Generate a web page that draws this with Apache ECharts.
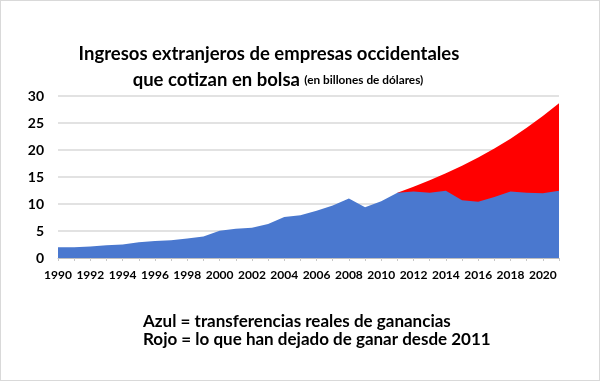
<!DOCTYPE html>
<html><head><meta charset="utf-8">
<script src="https://cdn.jsdelivr.net/npm/echarts@6/dist/echarts.min.js"></script>
<style>html,body{margin:0;padding:0;background:#fff}#c{width:598px;height:379px;border:1px solid #d9d9d9}</style>
</head><body><div id="c"></div>
<script>
const years = ['1990','1991','1992','1993','1994','1995','1996','1997','1998','1999','2000','2001','2002','2003','2004','2005','2006','2007','2008','2009','2010','2011','2012','2013','2014','2015','2016','2017','2018','2019','2020','2021'];
const azul = [2.0,2.0,2.15,2.35,2.5,2.9,3.15,3.3,3.6,4.0,5.05,5.4,5.6,6.3,7.6,7.9,8.75,9.7,11.0,9.4,10.5,12.1,12.3,12.1,12.45,10.7,10.4,11.3,12.3,12.1,12.0,12.45];
const rojo = [null,null,null,null,null,null,null,null,null,null,null,null,null,null,null,null,null,null,null,null,null,12.1,13.2,14.4,15.7,17.1,18.6,20.3,22.1,24.1,26.3,28.65];
const yTicks = [0,5,10,15,20,25,30];
const titulo1 = 'Ingresos extranjeros de empresas occidentales';
const titulo2a = 'que cotizan en bolsa';
const titulo2b = '(en billones de dólares)';
const nota1 = 'Azul = transferencias reales de ganancias';
const nota2 = 'Rojo = lo que han dejado de ganar desde 2011';

const F = 'Lato';
const chart = echarts.init(document.getElementById('c'), null, {renderer:'canvas'});
chart.setOption({
  animation:false,
  textStyle:{fontFamily:F},
  title:[
    {text:titulo1, left:268, top:44, padding:0, textAlign:'center', textStyle:{fontFamily:F,fontWeight:'bold',fontSize:18.5,color:'#000'}},
    {text:'{a|'+titulo2a+'} {b|'+titulo2b+'}', left:277, top:70, padding:0, textAlign:'center', textStyle:{rich:{a:{fontFamily:F,fontWeight:'bold',fontSize:18.5,color:'#000'},b:{fontFamily:F,fontWeight:'bold',fontSize:11.8,color:'#000'}}}},
    {text:nota1, left:142, top:312, padding:0, textStyle:{fontFamily:F,fontWeight:'bold',fontSize:17,color:'#000'}},
    {text:nota2, left:142, top:330, padding:0, textStyle:{fontFamily:F,fontWeight:'bold',fontSize:17,color:'#000'}}
  ],
  grid:{left:57, right:40, top:95, bottom:122},
  xAxis:{type:'category', data:years, boundaryGap:false,
    axisLine:{lineStyle:{color:'#bfbfbf',width:1}},
    axisTick:{show:true, interval:0, length:3, lineStyle:{color:'#c8c8c8'}},
    axisLabel:{interval:1, color:'#000', fontWeight:'bold', fontSize:12, fontFamily:F, margin:11}},
  yAxis:{type:'value', min:0, max:30, interval:5,
    axisLine:{show:false}, axisTick:{show:false},
    splitLine:{lineStyle:{color:'#d9d9d9',width:1.5}},
    axisLabel:{color:'#000', fontWeight:'bold', fontSize:14, fontFamily:F, margin:14,
      formatter:v=>yTicks.includes(v)?String(v):''}},
  series:[
    {name:'Rojo', type:'line', data:rojo, symbol:'none', lineStyle:{width:0}, areaStyle:{color:'#ff0000',opacity:1}, z:2},
    {name:'Azul', type:'line', data:azul, symbol:'none', lineStyle:{width:0}, areaStyle:{color:'#4a78cf',opacity:1}, z:3}
  ]
});
</script></body></html>
